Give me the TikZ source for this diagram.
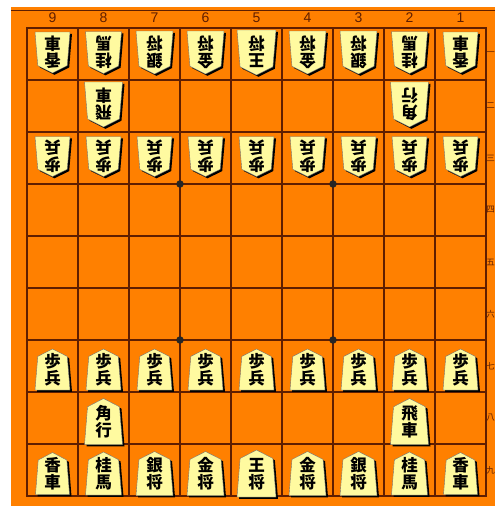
\documentclass[tikz,border=0pt]{standalone}
\usepackage{fontspec}
\newfontfamily\cjk{Noto Sans CJK JP}
\setsansfont{Liberation Sans}
\definecolor{boardorange}{RGB}{255,128,0}
\definecolor{gridbrown}{RGB}{95,30,0}
\definecolor{pieceyellow}{RGB}{255,250,160}
\tikzset{
  gridline/.style={draw=gridbrown, line width=1.2pt},
  frameline/.style={draw=gridbrown, line width=2pt},
  stardot/.style={circle, fill=black!85, inner sep=0pt, minimum size=7.5pt},
  piecetext/.style={font=\cjk\bfseries\fontsize{16.5}{17}\selectfont, align=center, inner sep=0pt, text=black},
  filelabel/.style={font=\sffamily\fontsize{14}{14}\selectfont, text=gridbrown, inner sep=0pt},
  ranklabel/.style={font=\cjk\fontsize{8.5}{8.5}\selectfont, text=gridbrown, inner sep=0pt, anchor=west},
  pieceshadow/.style={fill=black},
  piecebody/.style={fill=pieceyellow, draw=black!55, line width=0.4pt}
}
% path of a piece: width, height, orientation (1 = pointing up, -1 = pointing down)
\newcommand{\pcpath}[3]{(0,{-(#3)*(#2)/2}) -- ({0.42*(#1)},{-(#3)*((#2)/2-0.18*(#2))}) -- ({(#1)/2},{(#3)*(#2)/2}) -- ({-(#1)/2},{(#3)*(#2)/2}) -- ({-0.42*(#1)},{-(#3)*((#2)/2-0.18*(#2))}) -- cycle}
% name, file, rank, text, width, height, orientation
\newcommand{\shogipiece}[7]{%
  \pgfmathsetmacro\pcx{511.5-51*(#2)}%
  \pgfmathsetmacro\pcy{2+52*(#3)+((#7)>0?3.5:-1.5)}%
  \pgfmathsetmacro\prot{(#7)>0?0:180}%
  \begin{scope}[shift={(\pcx,\pcy)}]
    \begin{scope}[shift={(2,1.8)}]
      \fill[pieceshadow] \pcpath{#5}{#6}{#7};
    \end{scope}
    \path[piecebody] \pcpath{#5}{#6}{#7};
  \end{scope}
  \node[piecetext, rotate=\prot] (#1) at (\pcx,{\pcy+0.5*(#7)}) {#4};
}
\begin{document}
\begin{tikzpicture}[x=1pt,y=-1pt]
\useasboundingbox (0,0) rectangle (495,506);
\fill[white] (0,0) rectangle (495,506);
\fill[boardorange] (11,7) rectangle (495,506);
\draw[gridbrown, line width=1pt] (11,10) -- (495,10);
% grid
\foreach \i in {1,...,8} {
  \draw[gridline] ({27+51*\i},28) -- ({27+51*\i},496);
  \draw[gridline] (27,{28+52*\i}) -- (486,{28+52*\i});
}
\draw[frameline] (27,28) rectangle (486,496);
\node[stardot] (s1) at (180,184) {};
\node[stardot] (s2) at (333,184) {};
\node[stardot] (s3) at (180,340) {};
\node[stardot] (s4) at (333,340) {};
% file numbers
\foreach \c in {1,...,9} {
  \node[filelabel] (f\c) at ({511.5-51*\c},18) {\c};
}
% rank numerals
\node[ranklabel] (r1) at (486.2,54) {一};
\node[ranklabel] (r2) at (486.2,106) {二};
\node[ranklabel] (r3) at (486.2,158) {三};
\node[ranklabel] (r4) at (486.2,210) {四};
\node[ranklabel] (r5) at (486.2,262) {五};
\node[ranklabel] (r6) at (486.2,314) {六};
\node[ranklabel] (r7) at (486.2,366) {七};
\node[ranklabel] (r8) at (486.2,418) {八};
\node[ranklabel] (r9) at (486.2,470) {九};
% gote pieces
\shogipiece{g91}{9}{1}{香\\車}{35}{41}{-1}
\shogipiece{g81}{8}{1}{桂\\馬}{36}{42}{-1}
\shogipiece{g71}{7}{1}{銀\\将}{37}{43}{-1}
\shogipiece{g61}{6}{1}{金\\将}{37}{43}{-1}
\shogipiece{g51}{5}{1}{王\\将}{39}{45}{-1}
\shogipiece{g41}{4}{1}{金\\将}{37}{43}{-1}
\shogipiece{g31}{3}{1}{銀\\将}{37}{43}{-1}
\shogipiece{g21}{2}{1}{桂\\馬}{36}{42}{-1}
\shogipiece{g11}{1}{1}{香\\車}{35}{41}{-1}
\shogipiece{g82}{8}{2}{飛\\車}{38}{45}{-1}
\shogipiece{g22}{2}{2}{角\\行}{38}{45}{-1}
\foreach \c in {1,...,9} {
  \shogipiece{g\c3}{\c}{3}{歩\\兵}{35}{40}{-1}
}
% sente pieces
\foreach \c in {1,...,9} {
  \shogipiece{s\c7}{\c}{7}{歩\\兵}{35}{41}{1}
}
\shogipiece{s88}{8}{8}{角\\行}{38}{46}{1}
\shogipiece{s28}{2}{8}{飛\\車}{38}{46}{1}
\shogipiece{s99}{9}{9}{香\\車}{34}{42}{1}
\shogipiece{s89}{8}{9}{桂\\馬}{36}{43}{1}
\shogipiece{s79}{7}{9}{銀\\将}{37}{44}{1}
\shogipiece{s69}{6}{9}{金\\将}{37}{44}{1}
\shogipiece{s59}{5}{9}{王\\将}{39}{47}{1}
\shogipiece{s49}{4}{9}{金\\将}{37}{44}{1}
\shogipiece{s39}{3}{9}{銀\\将}{37}{44}{1}
\shogipiece{s29}{2}{9}{桂\\馬}{36}{43}{1}
\shogipiece{s19}{1}{9}{香\\車}{34}{42}{1}
\end{tikzpicture}
\end{document}
